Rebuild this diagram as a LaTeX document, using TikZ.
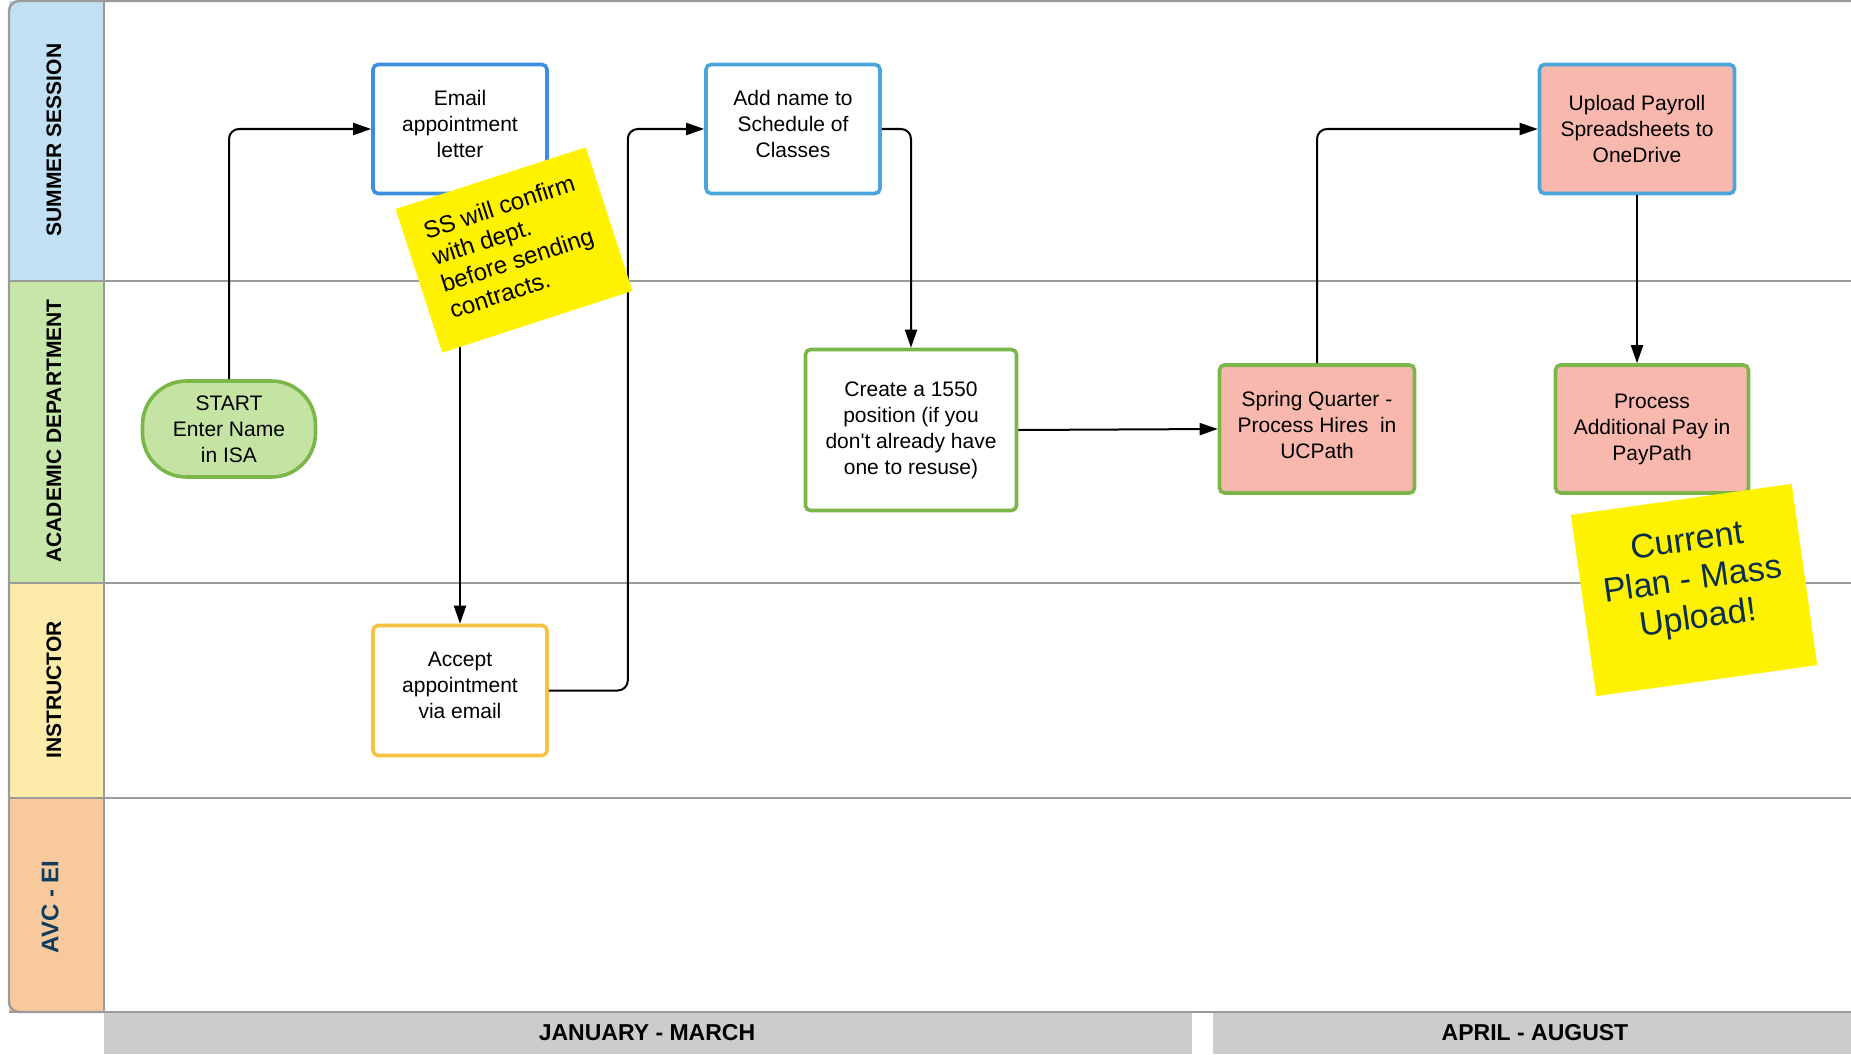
\documentclass[tikz,border=0pt]{standalone}
\usepackage{fontspec}
\setmainfont{Liberation Sans}
\usetikzlibrary{arrows.meta, positioning, calc}
\definecolor{laneblue}{HTML}{C2E0F4}
\definecolor{lanegreen}{HTML}{C7E6A9}
\definecolor{laneyellow}{HTML}{FDEBAA}
\definecolor{lanepeach}{HTML}{F7C99C}
\definecolor{framegray}{HTML}{9B9B9B}
\definecolor{bargray}{HTML}{CCCCCC}
\definecolor{stepgreen}{HTML}{7AB648}
\definecolor{stepblue}{HTML}{3D8EE0}
\definecolor{steplightblue}{HTML}{4AA5DB}
\definecolor{steporange}{HTML}{F5C242}
\definecolor{stepsalmon}{HTML}{F9B8AE}
\definecolor{startgreen}{HTML}{C5E4A4}
\definecolor{notenavy}{HTML}{0B2E4A}
\definecolor{avcnavy}{HTML}{0E3C5E}
\tikzset{
    stepbox/.style={draw, rounded corners=2.5pt, line width=1.8pt, fill=white, align=center,
      inner sep=2pt, font=\fontsize{10.5}{13}\selectfont},
    lanelabel/.style={rotate=90, font=\fontsize{10.5}{12}\selectfont\bfseries},
    monthlabel/.style={font=\fontsize{11.5}{13}\selectfont\bfseries},
    sticky/.style={fill=yellow, inner sep=0pt},
    flow/.style={-{Triangle[length=9pt, width=6pt]}, line width=1pt, rounded corners=5pt},
    laneline/.style={draw=framegray, line width=1.2pt},
}
\begin{document}
\begin{tikzpicture}[x=0.5pt, y=-0.5pt]
    \useasboundingbox (0,0) rectangle (1851,1054);

    % lane headers
    \fill[laneblue] (9,1) rectangle (104,281);
    \fill[lanegreen] (9,281) rectangle (104,583);
    \fill[laneyellow] (9,583) rectangle (104,798);
    \fill[lanepeach] (9,798) rectangle (104,1012);
    \fill[white] (104,1) rectangle (1851,1012);

    \draw[laneline, rounded corners=5pt] (1851,1) -- (9,1) -- (9,1012) -- (104,1012);
    \draw[laneline] (104,1) -- (104,1012);
    \foreach \y in {281, 583, 798, 1012}
      \draw[laneline] (9,\y) -- (1851,\y);

    \fill[bargray] (104,1013) rectangle (1192,1054);
    \fill[bargray] (1213,1013) rectangle (1851,1054);
    \node[monthlabel] (janmar) at (647,1033) {JANUARY - MARCH};
    \node[monthlabel] (apraug) at (1535,1033) {APRIL - AUGUST};

    \node[lanelabel] (sslabel) at (54,140) {SUMMER SESSION};
    \node[lanelabel] (acadlabel) at (54,431) {ACADEMIC DEPARTMENT};
    \node[lanelabel] (instlabel) at (54,690) {INSTRUCTOR};
    \node[lanelabel, text=avcnavy, font=\fontsize{12}{14}\selectfont\bfseries] (avclabel) at (50,907) {AVC - EI};

    % steps
    \node[stepbox, draw=stepgreen, fill=startgreen, rounded corners=22pt,
      minimum width=86.5pt, minimum height=48pt] (start) at (229,429) {START\\Enter Name\\in ISA};
    \node[stepbox, draw=stepblue, minimum width=87pt, minimum height=64.5pt] (email) at (460,129)
      {Email\\appointment\\letter\rule[-5pt]{0pt}{5pt}};
    \node[stepbox, draw=steporange, minimum width=87pt, minimum height=65pt, below=214.2pt of email] (accept)
      {Accept\\appointment\\via email\rule[-5pt]{0pt}{5pt}};
    \node[stepbox, draw=steplightblue, minimum width=87pt, minimum height=64.5pt] (addname) at (793,129)
      {Add name to\\Schedule of\\Classes\rule[-5pt]{0pt}{5pt}};
    \node[stepbox, draw=stepgreen, minimum width=105.5pt, minimum height=80.5pt] (create) at (911,430)
      {Create a 1550\\position (if you\\don\textquotesingle t already have\\one to resuse)};
    \node[stepbox, draw=stepgreen, fill=stepsalmon, minimum width=97.5pt, minimum height=64pt] (spring) at (1317,429)
      {Spring Quarter -\\Process Hires\ \ in\\UCPath\rule[-4pt]{0pt}{4pt}};
    \node[stepbox, draw=steplightblue, fill=stepsalmon, minimum width=97.5pt, minimum height=64.5pt] (upload) at (1637,129)
      {Upload Payroll\\Spreadsheets to\\OneDrive};
    \node[stepbox, draw=stepgreen, fill=stepsalmon, minimum width=96.5pt, minimum height=64pt, right=68.7pt of spring] (process)
      {Process\\Additional Pay in\\PayPath};

    \draw[flow] (start.north) |- (email.west);
    \draw[flow] (email.south) -- (accept.north);
    \draw[flow] (accept.east) -- ++(79,0) |- (addname.west);
    \draw[flow] (addname.east) -| (create.north);
    \draw[flow] (create.east) -- (spring.west);
    \draw[flow] (spring.north) |- (upload.west);
    \draw[flow] (upload.south) -- (upload.south |- process.north);

    % notes
    \node[sticky, rotate=18, minimum width=100pt, minimum height=75.5pt, align=left,
      font=\fontsize{12}{14}\selectfont] (ssnote) at (514,250)
      {SS will confirm\\with dept.\\before sending\\contracts.\rule[-4pt]{0pt}{4pt}};
    \node[sticky, rotate=8, minimum width=111.5pt, minimum height=91.5pt, align=center, text=notenavy,
      font=\fontsize{17}{19.5}\selectfont] (plannote) at (1694,590)
      {Current\\Plan - Mass\\Upload!\rule[-12pt]{0pt}{12pt}};
\end{tikzpicture}
\end{document}
